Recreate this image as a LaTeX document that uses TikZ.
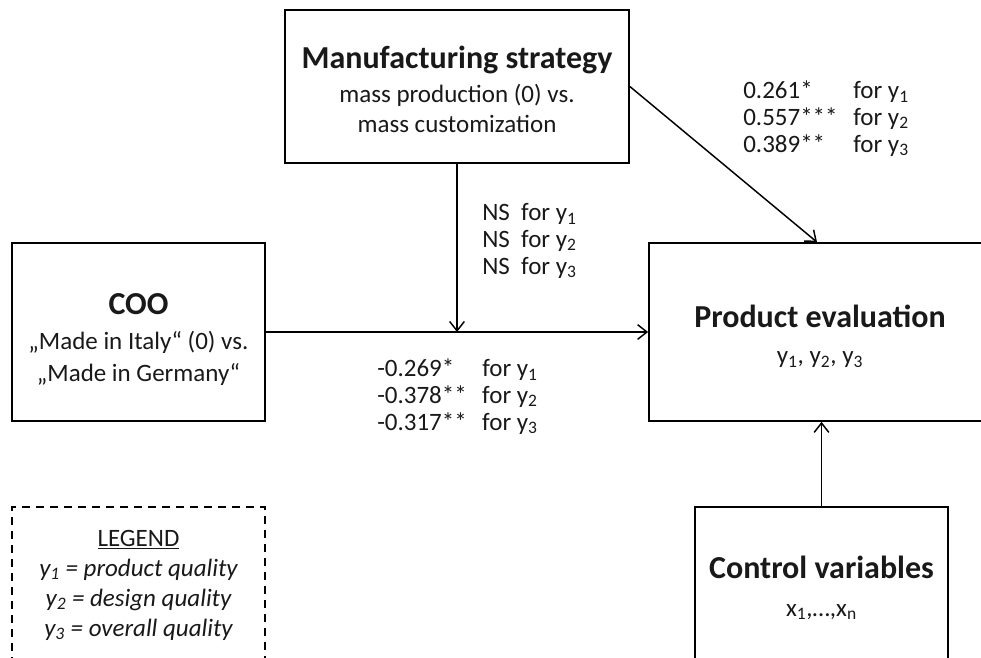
\documentclass[tikz,border=0pt]{standalone}
\usepackage{fontspec}
\setmainfont{Carlito}
\usetikzlibrary{arrows.meta,calc}
\newcommand\hdfont{\fontsize{24}{27}\selectfont\bfseries}
\newcommand\bodyfont{\fontsize{18.75}{22.5}\selectfont}
\newcommand\lblfont{\fontsize{18.75}{20}\selectfont}
\begin{document}
\begin{tikzpicture}[x=0.75pt,y=-0.75pt,
  box/.style={draw, line width=1.3pt, rectangle, inner sep=0pt, align=center, font=\bodyfont, text=black!90},
  legendbox/.style={draw, line width=1pt, dashed, dash pattern=on 6pt off 4.5pt, rectangle, inner sep=0pt, align=center, font=\bodyfont, text=black!90},
  conn/.style={line width=1.1pt, -{Straight Barb[length=7pt,width=11pt]}},
  lbl/.style={inner sep=0pt, anchor=base west, align=left, font=\lblfont, text=black!90}]
\useasboundingbox (0,0) rectangle (981,657);
\clip (0,0) rectangle (981,657);

\node[box, minimum width=258pt, minimum height=114.75pt] (ms) at (457,86.5)
  {{\hdfont\rule{0pt}{21pt}Manufacturing strategy}\\[3pt] mass production (0) vs.\\ mass customization};
\node[box, minimum width=189.75pt, minimum height=133.5pt] (coo) at (138.5,332)
  {{\hdfont\rule{0pt}{27pt}COO}\\[4pt] „Made in Italy“ (0) vs.\\[1pt] „Made in Germany“};
\node[box, minimum width=256.5pt, minimum height=133.5pt] (pe) at (820,332)
  {{\hdfont\rule{0pt}{24pt}Product evaluation}\\[4.5pt] y\textsubscript{1}, y\textsubscript{2}, y\textsubscript{3}};
\node[box, minimum width=189.75pt, minimum height=120.75pt] (cv) at (821.5,587.5)
  {{\hdfont Control variables}\\[6pt] x\textsubscript{1},…,x\textsubscript{n}};
\node[legendbox, minimum width=189.75pt, minimum height=117pt] (lg) at (138.5,585)
  {\underline{LEGEND}\\ {\itshape y\textsubscript{1} = product quality}\\ {\itshape y\textsubscript{2} = design quality}\\ {\itshape y\textsubscript{3} = overall quality}};

\coordinate (j) at (ms.south |- coo.east);
\draw[conn] (ms.south) -- (j);
\draw[conn] (coo.east) -- (pe.west);
\draw[conn] (ms.east) -- ($(pe.north)+(-3,0)$);
\draw[conn] (cv.north) -- (cv.north |- pe.south);

\node[lbl] (l1) at (743,152)
  {\makebox[82.5pt][l]{0.261*}for y\textsubscript{1}\\
   \makebox[82.5pt][l]{0.557***}for y\textsubscript{2}\\
   \makebox[82.5pt][l]{0.389**}for y\textsubscript{3}};
\node[lbl] (l2) at (482,274)
  {NS\ \ for y\textsubscript{1}\\
   NS\ \ for y\textsubscript{2}\\
   NS\ \ for y\textsubscript{3}};
\node[lbl] (l3) at (377,430)
  {\makebox[78.75pt][l]{-0.269*}for y\textsubscript{1}\\
   \makebox[78.75pt][l]{-0.378**}for y\textsubscript{2}\\
   \makebox[78.75pt][l]{-0.317**}for y\textsubscript{3}};
\end{tikzpicture}
\end{document}
